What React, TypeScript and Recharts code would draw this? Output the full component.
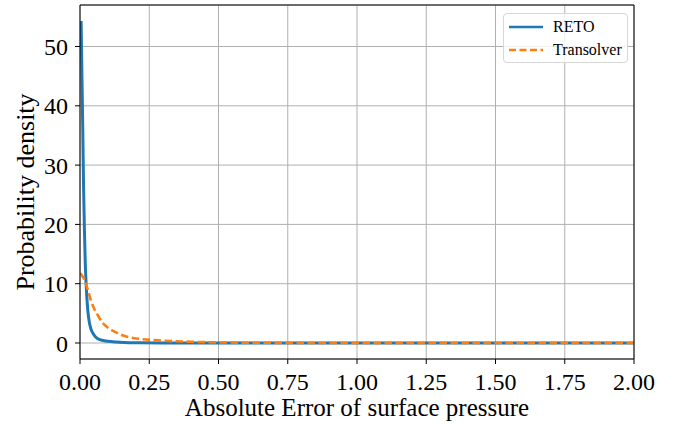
import { LineChart, Line, XAxis, YAxis, CartesianGrid, ReferenceLine } from "recharts";

// values
const retoX = [0.004, 0.007, 0.01, 0.013, 0.016, 0.019, 0.022, 0.028, 0.034, 0.04, 0.05, 0.064, 0.08, 0.1, 0.13, 0.16, 0.2, 0.3, 0.5, 1.0, 1.5, 2.0];
const retoY = [54.3, 45, 36, 26, 19, 13.5, 10, 5.6, 3.4, 2.3, 1.4, 0.7, 0.45, 0.28, 0.15, 0.08, 0.04, 0.01, 0, 0, 0, 0];

const transX = [0.002, 0.008, 0.016, 0.022, 0.03, 0.04, 0.05, 0.064, 0.08, 0.1, 0.13, 0.16, 0.22, 0.28, 0.34, 0.4, 0.5, 0.6, 0.75, 1.0, 1.5, 2.0];
const transY = [11.8, 11.3, 10.7, 9.9, 8.7, 7.1, 5.9, 4.7, 3.5, 2.6, 1.8, 1.2, 0.67, 0.45, 0.3, 0.2, 0.1, 0.05, 0.02, 0, 0, 0];

const xTicks = [0, 0.25, 0.5, 0.75, 1.0, 1.25, 1.5, 1.75, 2.0];
const yTicks = [0, 10, 20, 30, 40, 50];
const yDomain = [-2.7, 57.0];

const retoData = retoX.map((x, i) => ({ x, y: retoY[i] }));
const transData = transX.map((x, i) => ({ x, y: transY[i] }));

const font = "'Liberation Serif', 'Times New Roman', serif";

function YTitle(props: any) {
  const vb = props.viewBox || { x: 0, y: 0, height: 0 };
  const cx = 25;
  const cy = vb.y + vb.height / 2 + 10;
  return (
    <text
      x={cx}
      y={cy}
      transform={`rotate(-90, ${cx}, ${cy})`}
      textAnchor="middle"
      dominantBaseline="central"
      fill="#000"
      fontSize={26}
      fontFamily={font}
    >
      Probability density
    </text>
  );
}

function LegendBox() {
  const items = [
    { name: "RETO", color: "#1f77b4", dash: undefined },
    { name: "Transolver", color: "#ff7f0e", dash: "7 3.5" },
  ];
  return (
    <div
      style={{
        position: "absolute",
        left: 503,
        top: 13,
        border: "1px solid #d6d6d6",
        borderRadius: 4,
        background: "rgba(255,255,255,0.8)",
        padding: "1px 5px 1px 5px",
        fontFamily: font,
        fontSize: 16,
        color: "#000",
      }}
    >
      {items.map((it) => (
        <div key={it.name} style={{ display: "flex", alignItems: "center", height: 23 }}>
          <svg width={34} height={6} style={{ marginRight: 10 }}>
            <line x1={0} y1={3} x2={34} y2={3} stroke={it.color} strokeWidth={2.6} strokeDasharray={it.dash} />
          </svg>
          <span>{it.name}</span>
        </div>
      ))}
    </div>
  );
}

export default function App() {
  return (
    <div style={{ position: "absolute", left: 0, top: 0, width: 687, height: 425, background: "#fff" }}>
      <LineChart width={687} height={425} margin={{ top: 5, right: 53, bottom: 0, left: 0 }}>
        <CartesianGrid stroke="#b0b0b0" strokeWidth={1} />
        <XAxis
          type="number"
          dataKey="x"
          domain={[0, 2]}
          ticks={xTicks}
          allowDataOverflow
          tickFormatter={(v: number) => v.toFixed(2)}
          height={66}
          tickSize={5}
          tickMargin={9}
          stroke="#000"
          tick={{ fill: "#000", fontSize: 24, fontFamily: font }}
          label={{
            value: "Absolute Error of surface pressure",
            position: "insideBottom",
            offset: 9,
            fill: "#000",
            fontSize: 25,
            fontFamily: font,
          }}
        />
        <YAxis
          type="number"
          domain={yDomain}
          ticks={yTicks}
          allowDataOverflow
          width={80}
          tickSize={5}
          tickMargin={7}
          stroke="#000"
          tick={{ fill: "#000", fontSize: 24, fontFamily: font }}
          label={{ content: YTitle }}
        />
        <Line
          data={retoData}
          dataKey="y"
          type="monotone"
          stroke="#1f77b4"
          strokeWidth={3}
          dot={false}
          isAnimationActive={false}
        />
        <Line
          data={transData}
          dataKey="y"
          type="monotone"
          stroke="#ff7f0e"
          strokeWidth={2.6}
          strokeDasharray="7.5 3.5"
          dot={false}
          isAnimationActive={false}
        />
        <ReferenceLine x={2} stroke="#000" strokeWidth={1} />
        <ReferenceLine y={yDomain[1]} stroke="#000" strokeWidth={1} />
      </LineChart>
      <LegendBox />
    </div>
  );
}
